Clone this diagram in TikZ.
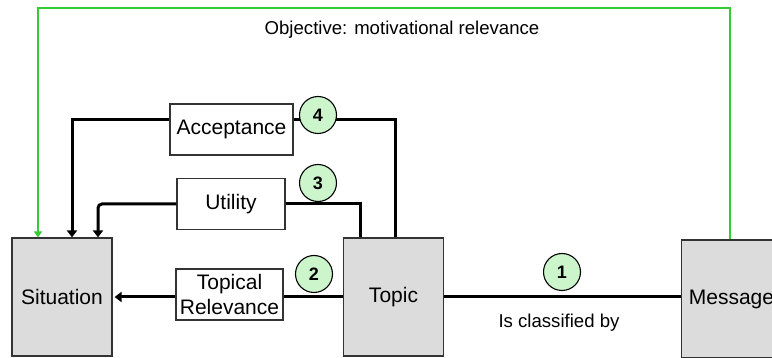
\documentclass[tikz,border=0pt]{standalone}
\usepackage{fontspec}
\setmainfont{Liberation Sans}
\usetikzlibrary{arrows.meta}
\definecolor{boxgray}{HTML}{DCDCDC}
\definecolor{edgegray}{HTML}{333333}
\definecolor{lgreen}{HTML}{CCF5CC}
\definecolor{ggreen}{HTML}{33CC33}
\tikzset{
  bigbox/.style={draw=edgegray, line width=1.1pt, fill=boxgray, minimum width=100pt, minimum height=118pt, inner sep=0pt, font=\fontsize{21}{23}\selectfont},
  lblbox/.style={draw=edgegray, line width=1.1pt, fill=white, minimum height=51pt, inner sep=0pt, align=center, font=\fontsize{21}{25}\selectfont},
  conn/.style={line width=3pt, black},
  tipend/.style={-{Triangle[width=10pt,length=7pt]}},
  numc/.style={circle, draw=black, line width=1.1pt, fill=lgreen, minimum size=37pt, inner sep=0pt, font=\bfseries\fontsize{18}{20}\selectfont},
  plain/.style={font=\fontsize{18.6}{20}\selectfont, inner sep=0pt}
}
\begin{document}
\begin{tikzpicture}[x=1pt,y=-1pt]
\useasboundingbox (0,0) rectangle (772,358);
\clip (0,0) rectangle (772,358);
\node[bigbox] (sit) at (62,297) {Situation};
\node[bigbox] (top) at (393.5,297) {Topic};
\node[bigbox] (msg) at (731.5,299) {Message};
\node[lblbox, minimum width=123pt] (acc) at (231.5,129.5) {Acceptance};
\node[lblbox, minimum width=108pt] (util) at (231,204) {Utility};
\node[lblbox, minimum width=107pt] (tr) at (229.5,294.5) {Topical\\Relevance};
\coordinate (gtop) at (0,8);
\coordinate (gin) at ([xshift=-24]sit.north);
% green objective connector
\draw[line width=2.6pt, ggreen, -{Triangle[width=8pt,length=6pt]}] ([xshift=-1.5]msg.north) |- (gin |- gtop) -- (gin);
\node[plain] (obj) at (402,30) {Objective: motivational relevance};
% acceptance
\draw[conn, tipend] ([yshift=9.5]acc.west) -| ([xshift=10]sit.north);
\draw[conn] ([yshift=9.5]acc.east) -| ([xshift=1.5]top.north);
% utility
\draw[conn, tipend, rounded corners=4pt] (util.west) -| ([xshift=36]sit.north);
\draw[conn] (util.east) -| ([xshift=-33.5]top.north);
% topical relevance
\draw[conn, tipend] (tr.west |- sit.east) -- ([xshift=2pt]sit.east);
\draw[conn] (top.west) -- (top.west -| tr.east);
% classified
\draw[conn] (top.east) -- (top.east -| msg.west);
\node[plain] (cls) at (559,323) {Is classified by};
% number circles
\node[numc] (n4) at (318,115) {4};
\node[numc] (n3) at (318,183) {3};
\node[numc] (n2) at (314,274) {2};
\node[numc] (n1) at (562,272) {1};
\end{tikzpicture}
\end{document}
